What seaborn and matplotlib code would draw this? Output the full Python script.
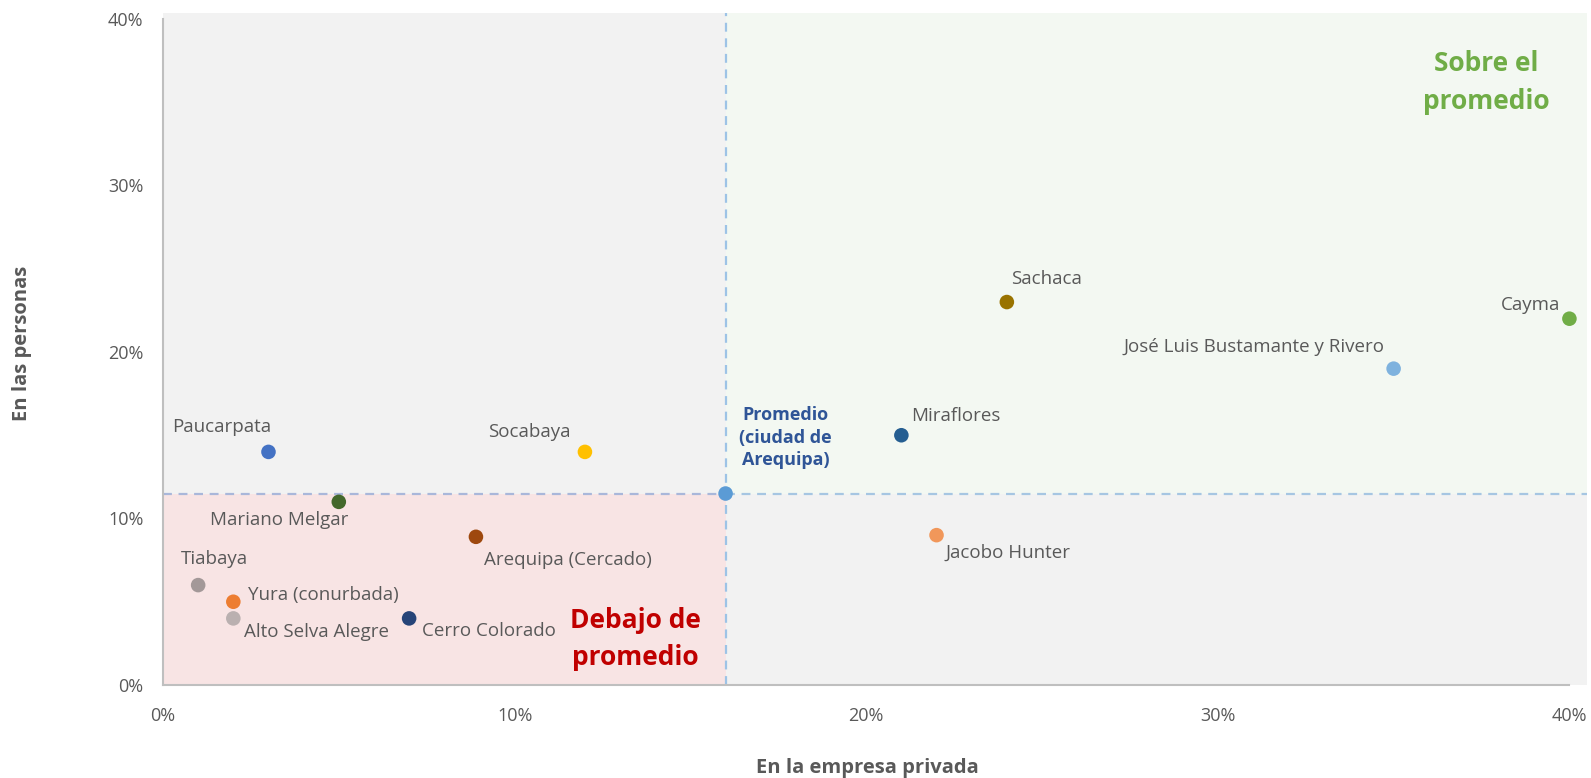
import pandas as pd
import seaborn as sns
import matplotlib.pyplot as plt
from matplotlib.patches import Rectangle
from matplotlib.ticker import FuncFormatter

# Data (percent)
distritos = ["Paucarpata", "Socabaya", "Mariano Melgar", "Arequipa (Cercado)", "Tiabaya",
             "Yura (conurbada)", "Alto Selva Alegre", "Cerro Colorado",
             "Promedio\n(ciudad de\nArequipa)", "Miraflores", "Jacobo Hunter", "Sachaca",
             "José Luis Bustamante y Rivero", "Cayma"]
empresa_privada = [3, 12, 5, 8.9, 1, 2, 2, 7, 16, 21, 22, 24, 35, 40]
personas = [14, 14, 11, 8.9, 6, 5, 4, 4, 11.5, 15, 9, 23, 19, 22]
colores = ["#4472C4", "#FFC000", "#43682B", "#9E480E", "#A39898",
           "#ED7D31", "#BAB0B0", "#264478",
           "#5B9BD5", "#255E91", "#F1975A", "#997300",
           "#7EB2DE", "#70AD47"]

prom_x = 16
prom_y = 11.5

df = pd.DataFrame({"distrito": distritos, "x": empresa_privada, "y": personas})

# label offsets in pixels and alignment
offsets = {
    "Paucarpata": (-96, 25, "left"),
    "Socabaya": (-14, 20, "right"),
    "Mariano Melgar": (-60, -18, "center"),
    "Arequipa (Cercado)": (8, -23, "left"),
    "Tiabaya": (-17, 26, "left"),
    "Yura (conurbada)": (15, 7, "left"),
    "Alto Selva Alegre": (11, -14, "left"),
    "Cerro Colorado": (13, -13, "left"),
    "Promedio\n(ciudad de\nArequipa)": (60, 56, "center"),
    "Miraflores": (10, 19, "left"),
    "Jacobo Hunter": (9, -18, "left"),
    "Sachaca": (4, 23, "left"),
    "José Luis Bustamante y Rivero": (-9, 22, "right"),
    "Cayma": (-9, 14, "right"),
}

sns.set_style("white")
plt.rcParams["font.family"] = ["Open Sans", "DejaVu Sans"]

fig = plt.figure(figsize=(15.91, 7.78), dpi=100)
ax = fig.add_axes([163 / 1591, 1 - 685 / 778, (1587 - 163) / 1591, (685 - 13) / 778])

ax.set_xlim(0, 40.5)
ax.set_ylim(0, 40.36)
ax.set_facecolor("#F2F2F2")

# quadrant backgrounds
ax.add_patch(Rectangle((0, 0), prom_x, prom_y, facecolor="#F8E4E4", edgecolor="none", zorder=0))
ax.add_patch(Rectangle((prom_x, prom_y), 40.5 - prom_x, 40.36 - prom_y,
                       facecolor="#F3F8F2", edgecolor="none", zorder=0))

# average lines
ax.plot([0, prom_x], [prom_y, prom_y], ls=(0, (4, 3)), color="#A9B7DA", lw=1.6, zorder=1)
ax.plot([prom_x, 40.5], [prom_y, prom_y], ls=(0, (4, 3)), color="#A6C6E2", lw=1.6, zorder=1)
ax.plot([prom_x, prom_x], [0, 40.36], ls=(0, (4, 3)), color="#9DC3E6", lw=1.6, zorder=1)

sns.scatterplot(data=df, x="x", y="y", hue="distrito", palette=dict(zip(distritos, colores)),
                s=110, edgecolor="none", legend=False, ax=ax, zorder=3, clip_on=False)

for name, x, y in zip(distritos, empresa_privada, personas):
    dx, dy, ha = offsets[name]
    if name.startswith("Promedio"):
        ax.annotate(name, (x, y), xytext=(dx, dy), textcoords="offset pixels",
                    ha=ha, va="center", fontsize=13, fontweight="bold", color="#2F5597",
                    linespacing=1.35)
    else:
        ax.annotate(name, (x, y), xytext=(dx, dy), textcoords="offset pixels",
                    ha=ha, va="center", fontsize=13.5, color="#595959")

ax.text(37.64, 36.2, "Sobre el\npromedio", ha="center", va="center", fontsize=19,
        fontweight="bold", color="#70AD47", linespacing=1.5)
ax.text(13.43, 2.75, "Debajo de\npromedio", ha="center", va="center", fontsize=19,
        fontweight="bold", color="#C00000", linespacing=1.5)

ax.set_xticks([0, 10, 20, 30, 40])
ax.set_yticks([0, 10, 20, 30, 40])
pct = FuncFormatter(lambda v, p: f"{v:.0f}%")
ax.xaxis.set_major_formatter(pct)
ax.yaxis.set_major_formatter(pct)
ax.tick_params(axis="both", length=0, labelsize=13, labelcolor="#595959")
ax.tick_params(axis="x", pad=16)
ax.tick_params(axis="y", pad=14)

for s in ["top", "right"]:
    ax.spines[s].set_visible(False)
for s in ["left", "bottom"]:
    ax.spines[s].set_color("#BFBFBF")
    ax.spines[s].set_linewidth(1.5)
ax.spines["left"].set_bounds(0, 40)
ax.spines["bottom"].set_bounds(0, 40)

ax.set_xlabel("")
ax.set_ylabel("")
fig.text(867 / 1591, 1 - 768 / 778, "En la empresa privada", ha="center", va="center",
         fontsize=14.5, fontweight="bold", color="#595959")
fig.text(22 / 1591, 1 - 343 / 778, "En las personas", ha="center", va="center", rotation=90,
         fontsize=14.5, fontweight="bold", color="#595959")

fig.savefig("out.png", dpi=100)
